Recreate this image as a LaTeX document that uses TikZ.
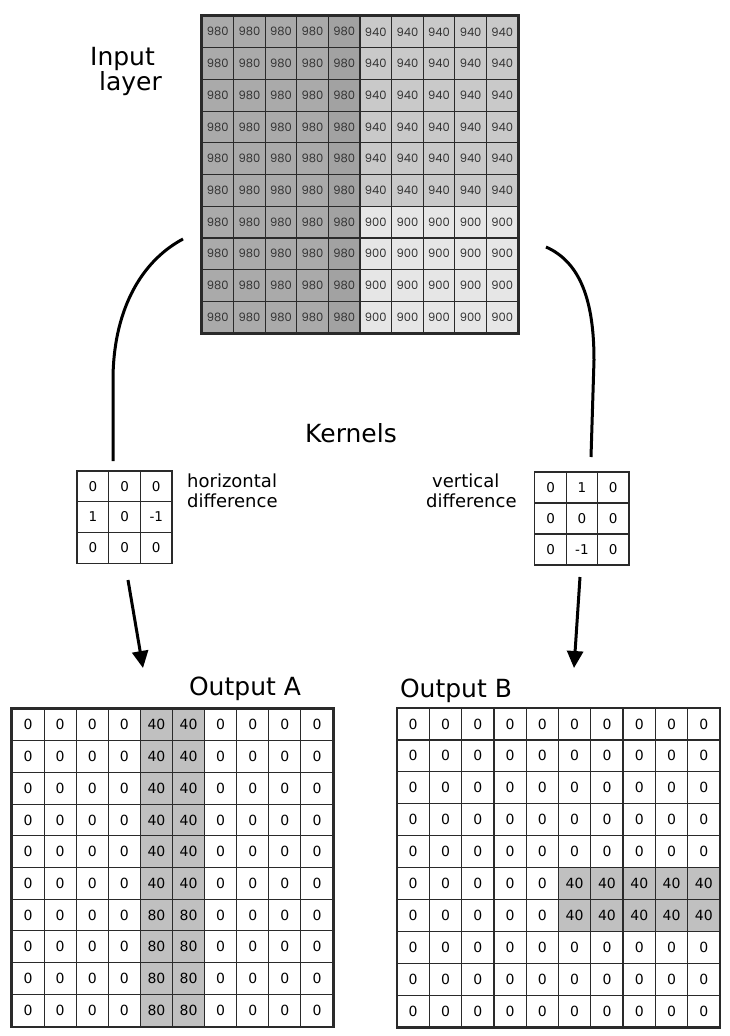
\documentclass[tikz,border=0pt]{standalone}
\usepackage{fontspec}
\setmainfont{DejaVu Sans}
\newfontfamily\numfont{Poppins}
\usepackage{xcolor}
\usepackage{tikz}
\usetikzlibrary{arrows.meta,calc}

\definecolor{dark980}{HTML}{AAAAAA}
\definecolor{edge980}{HTML}{A2A2A2}
\definecolor{mid940}{HTML}{C9C9C9}
\definecolor{light900}{HTML}{E6E6E6}
\definecolor{hit}{HTML}{C0C0C0}
\definecolor{gridline}{HTML}{2A2A2A}

\begin{document}
\begin{tikzpicture}[x=1pt, y=-1pt,
    incell/.style={draw=gridline, line width=1.2pt, minimum width=31.6pt, minimum height=31.7pt, inner sep=0pt, text=black!80, font=\numfont\fontsize{11.5}{11.5}\selectfont},
    outcell/.style={draw=gridline, line width=1.1pt, minimum width=32.1pt, minimum height=31.8pt, inner sep=0pt, font=\fontsize{14}{14}\selectfont},
    kcell/.style={draw=gridline, line width=1.1pt, minimum width=31.5pt, minimum height=30.8pt, inner sep=0pt, font=\fontsize{13.5}{13.5}\selectfont},
    frame/.style={draw=gridline, line width=2pt},
    titletext/.style={inner sep=0pt, font=\fontsize{25}{24}\selectfont},
    notetext/.style={inner sep=0pt, align=left, font=\fontsize{18}{20}\selectfont},
    wire/.style={line width=3pt},
    arrowtip/.style={-{Triangle[length=17pt,width=16pt]}}]
    \useasboundingbox (0,0) rectangle (729,1036);

    % input layer
    \foreach \r in {1,...,10}
      \foreach \c in {1,...,10} {
        \ifnum\c<6 \def\val{980}\def\shade{dark980}\ifnum\c=5 \def\shade{edge980}\fi
        \else
          \ifnum\r<7 \def\val{940}\def\shade{mid940}\else \def\val{900}\def\shade{light900}\fi
        \fi
        \node[incell, fill=\shade] (in-\r-\c) at ({202+31.6*(\c-0.5)}, {16+31.7*(\r-0.5)}) {\val};
      }
    \draw[frame] (in-1-1.north west) rectangle (in-10-10.south east);
    \node[titletext, align=left] (inlab) at (126,71.5) {Input\\\hspace*{9pt}layer};

    % kernels
    \node[titletext] (kertitle) at (351,433) {Kernels};
    \foreach \v [count=\i from 0] in {0,0,0,1,0,-1,0,0,0} {
      \pgfmathtruncatemacro\kr{div(\i,3)}
      \pgfmathtruncatemacro\kc{mod(\i,3)}
      \node[kcell] (kh-\kr-\kc) at ({77+31.7*(\kc+0.5)}, {471+30.7*(\kr+0.5)}) {\v};
    }
    \draw[frame, line width=1.5pt] (kh-0-0.north west) rectangle (kh-2-2.south east);
    \node[notetext, anchor=west] (khlab) at (187,491) {horizontal\\difference};

    \foreach \v [count=\i from 0] in {0,1,0,0,0,0,0,-1,0} {
      \pgfmathtruncatemacro\kr{div(\i,3)}
      \pgfmathtruncatemacro\kc{mod(\i,3)}
      \node[kcell] (kv-\kr-\kc) at ({535+31.3*(\kc+0.5)}, {472+31*(\kr+0.5)}) {\v};
    }
    \draw[frame, line width=1.5pt] (kv-0-0.north west) rectangle (kv-2-2.south east);
    \node[notetext, anchor=west] (kvlab) at (426,491) {\hspace*{6pt}vertical\\difference};

    % input to kernels
    \coordinate (inL) at (183,239);
    \coordinate (inR) at (546,247);
    \coordinate (khtop) at (113,461);
    \coordinate (kvtop) at (591,457);
    \draw[wire] (inL) .. controls (138,263) and (113,315) .. (113,380) -- (khtop);
    \draw[wire] (inR) .. controls (580,262) and (594,300) .. (594,360) -- (kvtop);

    % kernels to outputs
    \coordinate (khbot) at (128,580);
    \coordinate (kvbot) at (580,577);
    \coordinate (tipA) at (143,668);
    \coordinate (tipB) at (574,668);
    \draw[wire, arrowtip] (khbot) -- (tipA);
    \draw[wire, arrowtip] (kvbot) -- (tipB);

    % output A
    \foreach \r in {1,...,10}
      \foreach \c in {1,...,10} {
        \def\val{0}\def\shade{white}
        \ifnum\c>4 \ifnum\c<7 \def\shade{hit}\ifnum\r<7 \def\val{40}\else \def\val{80}\fi\fi\fi
        \node[outcell, fill=\shade] (oa-\r-\c) at ({12+32.1*(\c-0.5)}, {709+31.7*(\r-0.5)}) {\val};
      }
    \draw[frame] (oa-1-1.north west) rectangle (oa-10-10.south east);
    \node[titletext, anchor=base] (oalab) at (245,695) {Output A};

    % output B
    \foreach \r in {1,...,10}
      \foreach \c in {1,...,10} {
        \def\val{0}\def\shade{white}
        \ifnum\c>5 \ifnum\r>5 \ifnum\r<8 \def\shade{hit}\def\val{40}\fi\fi\fi
        \node[outcell, fill=\shade] (ob-\r-\c) at ({397+32.3*(\c-0.5)}, {708+31.9*(\r-0.5)}) {\val};
      }
    \draw[frame] (ob-1-1.north west) rectangle (ob-10-10.south east);
    \node[titletext, anchor=base] (oblab) at (456,697) {Output B};
\end{tikzpicture}
\end{document}
